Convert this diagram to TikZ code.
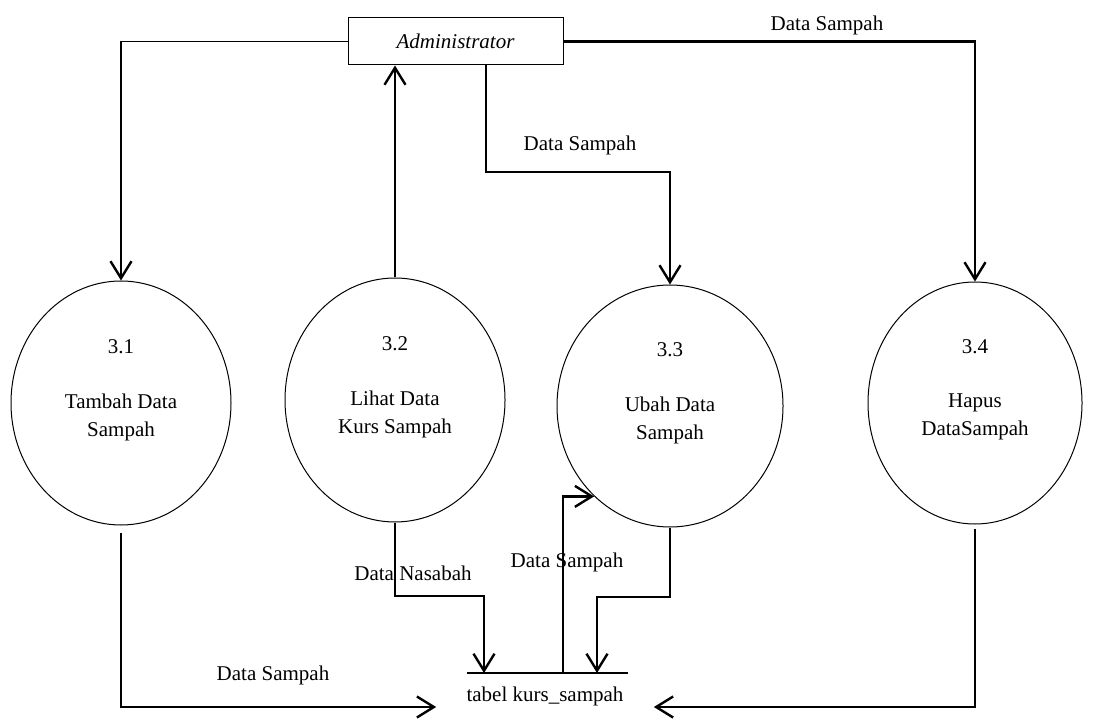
\documentclass[tikz,border=0pt]{standalone}
\usepackage{fontspec}
\setmainfont{Liberation Serif}
\usetikzlibrary{arrows.meta,shapes.geometric,calc}
\begin{document}
\begin{tikzpicture}[x=0.5pt,y=-0.5pt,
  font=\fontsize{10.5}{14}\selectfont,
  proc/.style={draw,line width=0.5pt,ellipse,inner sep=0pt,
    minimum width=110pt,minimum height=122pt},
  entity/.style={draw,line width=0.5pt,inner sep=0pt,
    minimum width=107.5pt,minimum height=23.5pt,font=\fontsize{10.5}{14}\selectfont\itshape},
  link/.style={line width=1.2pt},
  flow/.style={line width=1.2pt,-{Straight Barb[length=8.5pt,width=10.5pt]}},
  lbl/.style={inner sep=0pt,align=center}]
\useasboundingbox (0,0) rectangle (1096,726);

% external entity
\node[entity] (admin) at (455.5,41.5) {Administrator};

% processes
\node[proc] (c31) at (121,403) {};
\node[proc] (c32) at (395,400) {};
\node[proc,minimum width=113pt,minimum height=121pt] (c33) at (670,406) {};
\node[proc,minimum width=107pt,minimum height=121pt] (c34) at (975,403) {};

\foreach \p/\n/\t in {c31/3.1/{Tambah Data\\Sampah},
                      c32/3.2/{Lihat Data\\Kurs Sampah},
                      c33/3.3/{Ubah Data\\Sampah},
                      c34/3.4/{Hapus\\DataSampah}}{
  \node[lbl] (\p num) at ($(\p.center)+(0,-56)$) {\n};
  \node[lbl] (\p txt) at ($(\p.center)+(0,14)$) {\t};
}

% data store
\coordinate (sL) at (467,673);
\coordinate (sR) at (628,673);
\draw[line width=1pt] (sL) -- (sR);
\node[lbl,inner xsep=15pt] (store) at (545,696) {tabel kurs\_sampah};
\coordinate (s2) at (484,673);
\coordinate (s3) at (563,673);
\coordinate (s4) at (597,673);

% flows from/to the administrator
\coordinate (k1) at (c31.north |- admin.west);
\draw[line width=0.5pt] (admin.west) -- (k1);
\draw[flow] (k1) -- (c31.north);

\draw[flow] (c32.north) -- (c32.north |- admin.south);

\coordinate (k3) at (486,172);
\draw[flow] (k3 |- admin.south) -- (k3) -| (c33.north);

\draw[flow] (admin.east) -| (c34.north);

% flows to and from the data store
\draw[flow] ($(c31.south)+(0,7)$) |- ([yshift=-5.5pt]store.west);
\draw[flow] (c32.south) |- (s2 |- 0,596) -- (s2);
\draw[flow] (s3) |- (c33.230);
\draw[flow] (c33.south) |- (s4 |- 0,597) -- (s4);
\draw[flow] ($(c34.south)+(0,4)$) |- ([yshift=-5.5pt]store.east);

% flow labels
\node[lbl] (l1) at (827,25) {Data Sampah};
\node[lbl] (l2) at (580,145) {Data Sampah};
\node[lbl] (l3) at (567,562) {Data Sampah};
\node[lbl] (l4) at (413,573) {Data Nasabah};
\node[lbl] (l5) at (273,675) {Data Sampah};
\end{tikzpicture}
\end{document}
